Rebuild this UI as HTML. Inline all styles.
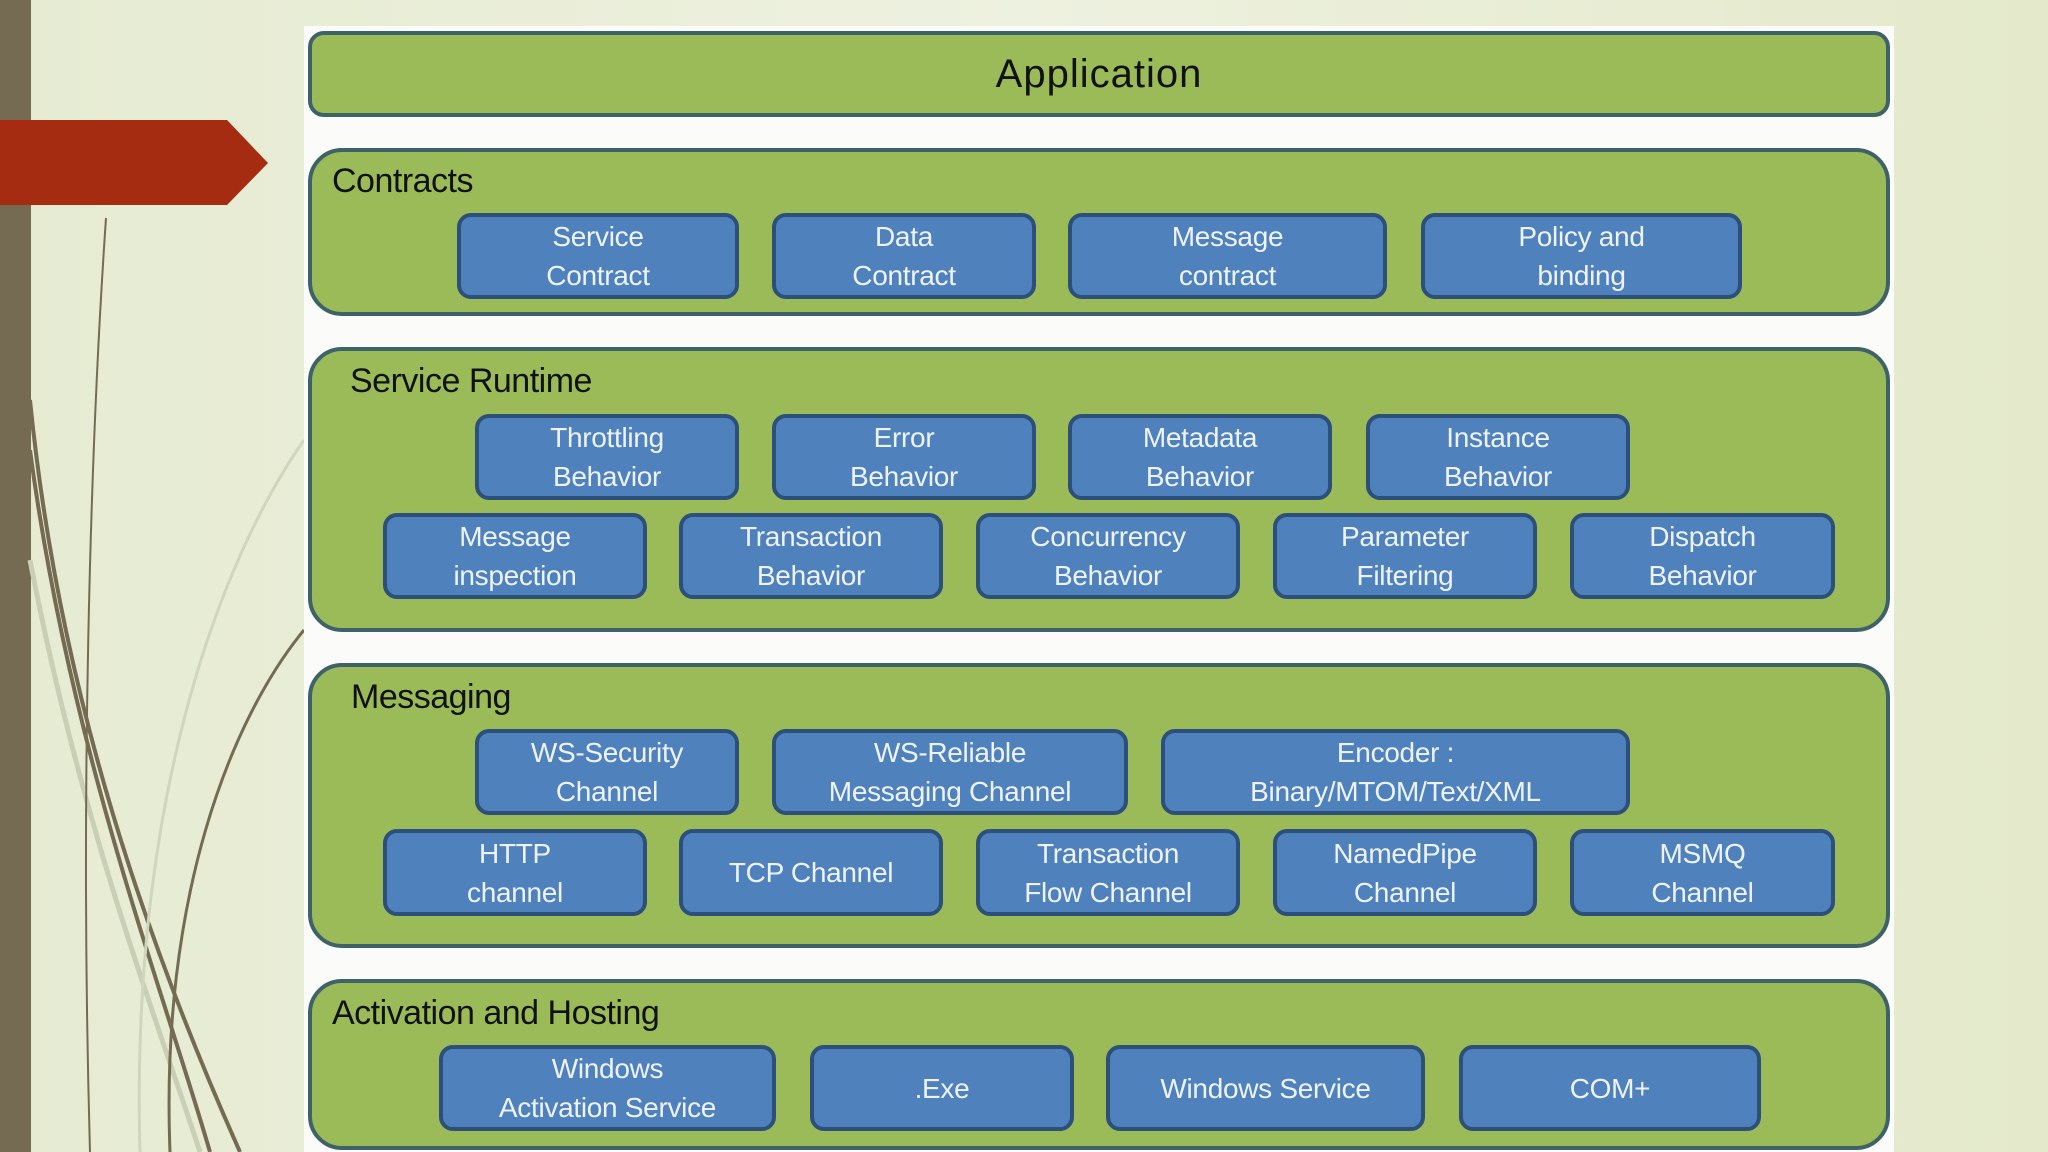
<!DOCTYPE html>
<html><head><meta charset="utf-8"><style>
body{margin:0;width:2048px;height:1152px;overflow:hidden;position:relative;background:linear-gradient(90deg,#e6ebd2 0%,#edf1df 50%,#e4e9cb 100%);font-family:"Liberation Sans",sans-serif}
.a{position:absolute}
.panel{position:absolute;left:304px;top:26px;width:1590px;height:1126px;background:#fbfcf9}
.g{position:absolute;background:#9bbb59;border:4px solid #3e6268;border-radius:34px;box-sizing:border-box}
.lbl{position:absolute;font-size:34px;color:#111;letter-spacing:-0.5px}
.b{position:absolute;background:#4f81bd;border:4px solid #2c5079;border-radius:14px;box-sizing:border-box;color:#eef3fa;font-size:28px;line-height:39px;text-align:center;display:flex;align-items:center;justify-content:center;letter-spacing:-0.3px}
</style></head><body>
<div class="a" style="left:0;top:0;width:31px;height:1152px;background:#756b53"></div>
<svg class="a" style="left:0;top:0" width="310" height="1152">
<path d="M30 400 C60 700 150 950 240 1152" stroke="#756b53" stroke-width="4" fill="none"/>
<path d="M30 450 C70 750 160 980 210 1152" stroke="#756b53" stroke-width="4" fill="none"/>
<path d="M30 560 C80 820 150 1000 200 1152" stroke="#c9cfb5" stroke-width="5" fill="none"/>
<path d="M106 218 C90 450 80 800 90 1152" stroke="#756b53" stroke-width="2" fill="none"/>
<path d="M304 630 C230 720 160 900 170 1152" stroke="#756b53" stroke-width="3" fill="none"/>
<path d="M304 440 C220 560 130 800 140 1152" stroke="#d0d6bd" stroke-width="3" fill="none"/>
</svg>
<svg class="a" style="left:0;top:120px" width="270" height="86"><polygon points="0,0 227,0 268,43 227,85 0,85" fill="#a52c11"/></svg>
<div class="panel"></div>
<div class="g" style="left:308px;top:31px;width:1582px;height:86px;border-radius:16px"></div>
<div class="a" style="left:308px;top:31px;width:1582px;height:86px;line-height:86px;text-align:center;font-size:40px;color:#111;letter-spacing:1px">Application</div>

<div class="g" style="left:308px;top:148px;width:1582px;height:168px"></div>
<div class="lbl" style="left:332px;top:162px">Contracts</div>
<div class="b" style="left:457px;top:213px;width:282px;height:86px">Service<br>Contract</div>
<div class="b" style="left:772px;top:213px;width:264px;height:86px">Data<br>Contract</div>
<div class="b" style="left:1068px;top:213px;width:319px;height:86px">Message<br>contract</div>
<div class="b" style="left:1421px;top:213px;width:321px;height:86px">Policy and<br>binding</div>

<div class="g" style="left:308px;top:347px;width:1582px;height:285px"></div>
<div class="lbl" style="left:350px;top:362px">Service Runtime</div>
<div class="b" style="left:475px;top:414px;width:264px;height:86px">Throttling<br>Behavior</div>
<div class="b" style="left:772px;top:414px;width:264px;height:86px">Error<br>Behavior</div>
<div class="b" style="left:1068px;top:414px;width:264px;height:86px">Metadata<br>Behavior</div>
<div class="b" style="left:1366px;top:414px;width:264px;height:86px">Instance<br>Behavior</div>
<div class="b" style="left:383px;top:513px;width:264px;height:86px">Message<br>inspection</div>
<div class="b" style="left:679px;top:513px;width:264px;height:86px">Transaction<br>Behavior</div>
<div class="b" style="left:976px;top:513px;width:264px;height:86px">Concurrency<br>Behavior</div>
<div class="b" style="left:1273px;top:513px;width:264px;height:86px">Parameter<br>Filtering</div>
<div class="b" style="left:1570px;top:513px;width:265px;height:86px">Dispatch<br>Behavior</div>

<div class="g" style="left:308px;top:663px;width:1582px;height:285px"></div>
<div class="lbl" style="left:351px;top:678px">Messaging</div>
<div class="b" style="left:475px;top:729px;width:264px;height:86px">WS-Security<br>Channel</div>
<div class="b" style="left:772px;top:729px;width:356px;height:86px">WS-Reliable<br>Messaging Channel</div>
<div class="b" style="left:1161px;top:729px;width:469px;height:86px">Encoder :<br>Binary/MTOM/Text/XML</div>
<div class="b" style="left:383px;top:829px;width:264px;height:87px">HTTP<br>channel</div>
<div class="b" style="left:679px;top:829px;width:264px;height:87px">TCP Channel</div>
<div class="b" style="left:976px;top:829px;width:264px;height:87px">Transaction<br>Flow Channel</div>
<div class="b" style="left:1273px;top:829px;width:264px;height:87px">NamedPipe<br>Channel</div>
<div class="b" style="left:1570px;top:829px;width:265px;height:87px">MSMQ<br>Channel</div>

<div class="g" style="left:308px;top:979px;width:1582px;height:171px"></div>
<div class="lbl" style="left:332px;top:994px">Activation and Hosting</div>
<div class="b" style="left:439px;top:1045px;width:337px;height:86px">Windows<br>Activation Service</div>
<div class="b" style="left:810px;top:1045px;width:264px;height:86px">.Exe</div>
<div class="b" style="left:1106px;top:1045px;width:319px;height:86px">Windows Service</div>
<div class="b" style="left:1459px;top:1045px;width:302px;height:86px">COM+</div>
</body></html>
